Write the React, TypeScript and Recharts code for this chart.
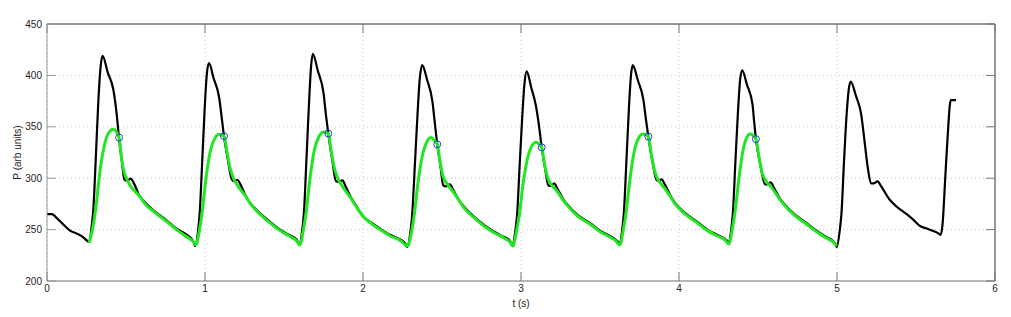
import { ComposedChart, Line, Scatter, XAxis, YAxis, CartesianGrid, ReferenceLine } from 'recharts';

// measured pressure, one list of [t, P] per beat
const measuredStart: number[][] = [
  [0, 265], [0.03, 265], [0.07, 260], [0.11, 254], [0.146, 249], [0.19, 246], [0.23, 242.5], [0.255, 239],
];
const measuredBeat1: number[][] = [
  [0.264, 238], [0.284, 255], [0.293, 269], [0.309, 320], [0.325, 375], [0.339, 408], [0.352, 419], [0.384, 403],
  [0.42, 386], [0.439, 365], [0.456, 339], [0.475, 315], [0.489, 299], [0.505, 297.5], [0.53, 299.5], [0.55, 295],
  [0.589, 282], [0.61, 278], [0.68, 268], [0.757, 259], [0.82, 251], [0.884, 245], [0.915, 241], [0.93, 237],
];
const measuredBeat2: number[][] = [
  [0.937, 234], [0.957, 250], [0.966, 265], [0.982, 315], [0.998, 368], [1.012, 402], [1.025, 412], [1.055, 397],
  [1.09, 378], [1.105, 360], [1.12, 341], [1.145, 318], [1.169, 299], [1.185, 297], [1.204, 298.5], [1.224, 294],
  [1.26, 282], [1.28, 277], [1.327, 269], [1.4, 259], [1.475, 250], [1.53, 245], [1.58, 240.5], [1.59, 237],
];
const measuredBeat3: number[][] = [
  [1.597, 236], [1.617, 252], [1.626, 266], [1.642, 318], [1.658, 372], [1.671, 408], [1.682, 421], [1.715, 404],
  [1.75, 383], [1.765, 362], [1.78, 343.5], [1.805, 318], [1.829, 297], [1.848, 296.5], [1.87, 298], [1.89, 292],
  [1.925, 281], [1.95, 275], [2.0, 263], [2.06, 256], [2.108, 251], [2.17, 245], [2.24, 240], [2.27, 236],
];
const measuredBeat4: number[][] = [
  [2.28, 233], [2.3, 248], [2.31, 262], [2.328, 312], [2.345, 362], [2.36, 398], [2.375, 410], [2.405, 396],
  [2.44, 374], [2.455, 353], [2.47, 333], [2.49, 312], [2.508, 293], [2.525, 292], [2.55, 294], [2.57, 289],
  [2.61, 278], [2.63, 274], [2.7, 263], [2.77, 254], [2.83, 248], [2.89, 243], [2.925, 240], [2.938, 237],
];
const measuredBeat5: number[][] = [
  [2.945, 235], [2.965, 250], [2.975, 264], [2.992, 314], [3.008, 360], [3.022, 392], [3.036, 404], [3.065, 388],
  [3.095, 370], [3.113, 352], [3.131, 330], [3.152, 310], [3.173, 293], [3.19, 292.5], [3.21, 295], [3.23, 290],
  [3.27, 279], [3.29, 275], [3.36, 264], [3.44, 256], [3.5, 249], [3.56, 244], [3.6, 240], [3.615, 238],
];
const measuredBeat6: number[][] = [
  [3.622, 236], [3.642, 252], [3.651, 266], [3.667, 316], [3.683, 368], [3.696, 400], [3.707, 410], [3.74, 395],
  [3.775, 376], [3.79, 358], [3.806, 340.5], [3.83, 318], [3.859, 298], [3.872, 297.5], [3.89, 299], [3.91, 294],
  [3.95, 282], [3.97, 277], [4.04, 266], [4.12, 257], [4.18, 250], [4.24, 245], [4.29, 241], [4.305, 239],
];
const measuredBeat7: number[][] = [
  [4.312, 237], [4.332, 252], [4.341, 266], [4.357, 316], [4.373, 364], [4.387, 396], [4.4, 405], [4.43, 391],
  [4.465, 372], [4.475, 356], [4.487, 338], [4.515, 313], [4.544, 294], [4.56, 294], [4.58, 296], [4.6, 291],
  [4.64, 280], [4.66, 276], [4.73, 265], [4.81, 256], [4.87, 249], [4.93, 243], [4.975, 239], [4.99, 236],
];
const measuredBeat8: number[][] = [
  [4.998, 233], [5.018, 250], [5.028, 265], [5.044, 315], [5.06, 360], [5.074, 386], [5.087, 394], [5.12, 380],
  [5.152, 363], [5.175, 335], [5.195, 310], [5.215, 295], [5.232, 295], [5.257, 297], [5.28, 292], [5.331, 279.5],
  [5.38, 272], [5.441, 265], [5.48, 260], [5.525, 253.5], [5.57, 251], [5.61, 248.6], [5.64, 246.5], [5.656, 244.8],
  [5.668, 255], [5.685, 300], [5.7, 340], [5.72, 376], [5.753, 376],
];

// fitted model, one list per beat
const modelBeat1: number[][] = [
  [0.267, 237], [0.29, 252], [0.31, 272], [0.33, 300], [0.36, 330], [0.39, 344], [0.42, 347.5], [0.44, 345],
  [0.456, 339.5], [0.473, 318], [0.49, 305], [0.508, 298], [0.54, 290], [0.589, 282], [0.61, 277], [0.68, 267],
  [0.757, 258], [0.82, 250], [0.884, 243], [0.93, 237.5], [0.942, 235],
];
const modelBeat2: number[][] = [
  [0.942, 235], [0.963, 248], [0.983, 268], [1.003, 296], [1.033, 326], [1.063, 339], [1.089, 342.7], [1.105, 342],
  [1.12, 341], [1.14, 325], [1.16, 309], [1.18, 300], [1.21, 292], [1.26, 282], [1.28, 277], [1.327, 268],
  [1.4, 258], [1.475, 249], [1.53, 244], [1.58, 239], [1.6, 235],
];
const modelBeat3: number[][] = [
  [1.6, 235], [1.623, 250], [1.643, 270], [1.663, 298], [1.693, 328], [1.723, 341], [1.75, 345], [1.765, 344.5],
  [1.78, 343.5], [1.8, 325], [1.82, 309], [1.84, 300], [1.87, 292], [1.925, 280], [1.95, 274], [2.0, 263],
  [2.06, 255], [2.108, 250], [2.17, 244], [2.24, 239], [2.283, 234],
];
const modelBeat4: number[][] = [
  [2.283, 234], [2.306, 247], [2.326, 266], [2.346, 293], [2.376, 322], [2.406, 336], [2.43, 339.5], [2.45, 337],
  [2.47, 333], [2.488, 316], [2.506, 302], [2.525, 296], [2.555, 290], [2.61, 278], [2.63, 273], [2.7, 262],
  [2.77, 253], [2.83, 247], [2.89, 242], [2.93, 238], [2.948, 234],
];
const modelBeat5: number[][] = [
  [2.948, 234], [2.971, 248], [2.991, 266], [3.011, 292], [3.041, 319], [3.071, 332], [3.095, 335], [3.113, 333.5],
  [3.131, 330], [3.15, 313], [3.17, 300], [3.19, 294], [3.22, 289], [3.27, 278], [3.29, 274], [3.36, 263],
  [3.44, 255], [3.5, 248], [3.56, 243], [3.6, 239], [3.625, 235],
];
const modelBeat6: number[][] = [
  [3.625, 235], [3.648, 250], [3.668, 270], [3.688, 297], [3.718, 327], [3.748, 340], [3.77, 343], [3.788, 342.5],
  [3.806, 340.5], [3.826, 322], [3.846, 307], [3.866, 299], [3.9, 292], [3.95, 281], [3.97, 276], [4.04, 265],
  [4.12, 256], [4.18, 249], [4.24, 244], [4.29, 240], [4.315, 236],
];
const modelBeat7: number[][] = [
  [4.315, 236], [4.338, 251], [4.358, 271], [4.378, 298], [4.405, 327], [4.43, 340], [4.45, 343], [4.47, 341.5],
  [4.487, 338], [4.507, 320], [4.527, 305], [4.547, 298], [4.58, 292], [4.64, 279], [4.66, 275], [4.73, 264],
  [4.81, 255], [4.87, 248], [4.93, 242], [4.975, 238], [4.998, 234],
];

// crossing markers
const markerTimes = [0.456, 1.12, 1.78, 2.47, 3.131, 3.806, 4.487];
const markerValues = [339.5, 341, 343.5, 333, 330, 340.5, 338];

const xTicks = [0, 1, 2, 3, 4, 5, 6];
const yTicks = [200, 250, 300, 350, 400, 450];

const toPoints = (beats: number[][][]) => beats.flat().map(([t, p]) => ({ t, p }));

const measured = toPoints([
  measuredStart, measuredBeat1, measuredBeat2, measuredBeat3, measuredBeat4,
  measuredBeat5, measuredBeat6, measuredBeat7, measuredBeat8,
]);
const model = toPoints([modelBeat1, modelBeat2, modelBeat3, modelBeat4, modelBeat5, modelBeat6, modelBeat7]);
const markers = markerTimes.map((t, i) => ({ t, p: markerValues[i] }));

const font = { fontFamily: '"Liberation Sans", Arial, sans-serif', fontSize: 10, fill: '#222' };
const frame = '#777';
const blank = () => '';

export default function App() {
  return (
    <div style={{ position: 'absolute', left: 0, top: 0, background: '#fff' }}>
      <ComposedChart width={1011} height={317} margin={{ top: 23, right: 15, bottom: 10, left: 7 }}>
        <CartesianGrid stroke="#c8c8c8" strokeDasharray="1 3" />
        <XAxis
          type="number"
          dataKey="t"
          domain={[0, 6]}
          ticks={xTicks}
          height={26}
          tickSize={-9}
          tickMargin={13}
          stroke={frame}
          tick={font}
          label={{ value: 't (s)', position: 'insideBottom', offset: 0, style: font }}
        />
        {/* mirror axes give the closed box with inward ticks, as in the original */}
        <XAxis xAxisId="top" orientation="top" type="number" dataKey="t" domain={[0, 6]} ticks={xTicks} height={1} tickSize={-9} tickFormatter={blank} stroke={frame} />
        <YAxis
          type="number"
          domain={[200, 450]}
          ticks={yTicks}
          width={40}
          tickSize={-9}
          tickMargin={14}
          stroke="#999"
          tick={font}
          label={{ value: 'P (arb units)', angle: -90, position: 'insideLeft', offset: 10, style: { ...font, textAnchor: 'middle' } }}
        />
        <YAxis yAxisId="right" orientation="right" type="number" domain={[200, 450]} ticks={yTicks} width={1} tickSize={-9} tickFormatter={blank} stroke={frame} />
        <ReferenceLine x={6} stroke={frame} />
        <ReferenceLine y={450} stroke={frame} />
        <Line data={measured} dataKey="p" type="monotone" stroke="#000" strokeWidth={2.2} dot={false} isAnimationActive={false} />
        <Line data={model} dataKey="p" type="monotone" stroke="#22e622" strokeWidth={3} dot={false} isAnimationActive={false} />
        <Scatter
          data={markers}
          dataKey="p"
          xAxisId="top"
          yAxisId="right"
          isAnimationActive={false}
          shape={(props: any) => <circle cx={props.cx} cy={props.cy} r={3.5} fill="none" stroke="#2a3fd0" strokeWidth={1} />}
        />
      </ComposedChart>
    </div>
  );
}
